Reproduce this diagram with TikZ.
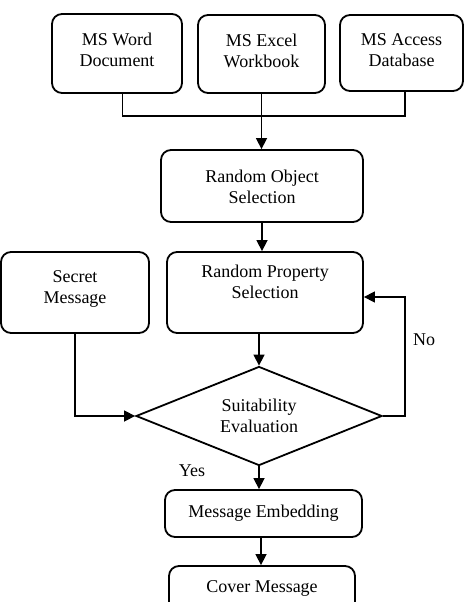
\documentclass[tikz,border=0pt]{standalone}
\usepackage{fontspec}
\setmainfont{Liberation Serif}
\usetikzlibrary{arrows.meta,shapes.geometric}
\begin{document}
\begin{tikzpicture}[x=1pt,y=-1pt,
  line width=1.5pt,
  box/.style={draw,line width=1.8pt,rounded corners=10pt,inner sep=0pt},
  lbl/.style={align=center,inner sep=0pt,font=\fontsize{18}{21}\selectfont},
  arr/.style={-{Triangle[width=11pt,length=11pt]}}]
\clip (0,0) rectangle (464,602);
% boxes
\node[box,minimum width=130pt,minimum height=79pt] (word) at (117,53.5) {};
\node[box,minimum width=127pt,minimum height=78pt] (excel) at (261.5,54) {};
\node[box,minimum width=123pt,minimum height=76pt] (access) at (401.5,53) {};
\node[box,minimum width=202pt,minimum height=72pt] (ros) at (262,186) {};
\node[box,minimum width=196pt,minimum height=81pt] (rps) at (265,292.5) {};
\node[box,minimum width=148pt,minimum height=81pt] (secret) at (75,292.5) {};
\node[draw,diamond,line width=1.8pt,inner sep=0pt,minimum width=246pt,minimum height=99pt] (suit) at (259,416) {};
\node[box,minimum width=197pt,minimum height=47pt] (me) at (263.5,513.5) {};
\node[box,minimum width=186pt,minimum height=47pt] (cover) at (262,589.5) {};
% texts
\node[lbl] at (117,49.5) {MS Word\\Document};
\node[lbl] at (261.5,51) {MS Excel\\Workbook};
\node[lbl] at (401.5,50.5) {MS Access\\Database};
\node[lbl] at (262,186.5) {Random Object\\Selection};
\node[lbl] at (265,282) {Random Property\\Selection};
\node[lbl] at (75,288.5) {Secret\\Message};
\node[lbl] at (259,415.5) {Suitability\\Evaluation};
\node[lbl] at (263.5,512.7) {Message Embedding};
\node[lbl] at (262,588.7) {Cover Message};
\node[lbl] (no) at (424,340) {No};
\node[lbl] (yes) at (192,470.5) {Yes};
% connectors
\coordinate (jl) at (122.5,116);
\coordinate (jr) at (405,116);
\draw ([xshift=5.5pt]word.south) -- (jl) -- (jr) -- (access.south -| jr);
\draw[arr] (excel.south) -- (excel.south |- ros.north);
\draw[arr] (ros.south) -- (ros.south |- rps.north);
\draw[arr] (suit.north |- rps.south) -- (suit.north);
\draw[arr] (secret.south) |- (suit.west);
\coordinate (nr) at (405,416);
\draw[arr] (suit.east) -- (nr) |- ([yshift=-4.5pt]rps.east);
\draw[arr] (suit.south) -- (suit.south |- me.north);
\draw[arr] ([xshift=-2.5pt]me.south) -- ([xshift=-2.5pt]me.south |- cover.north);
\end{tikzpicture}
\end{document}
